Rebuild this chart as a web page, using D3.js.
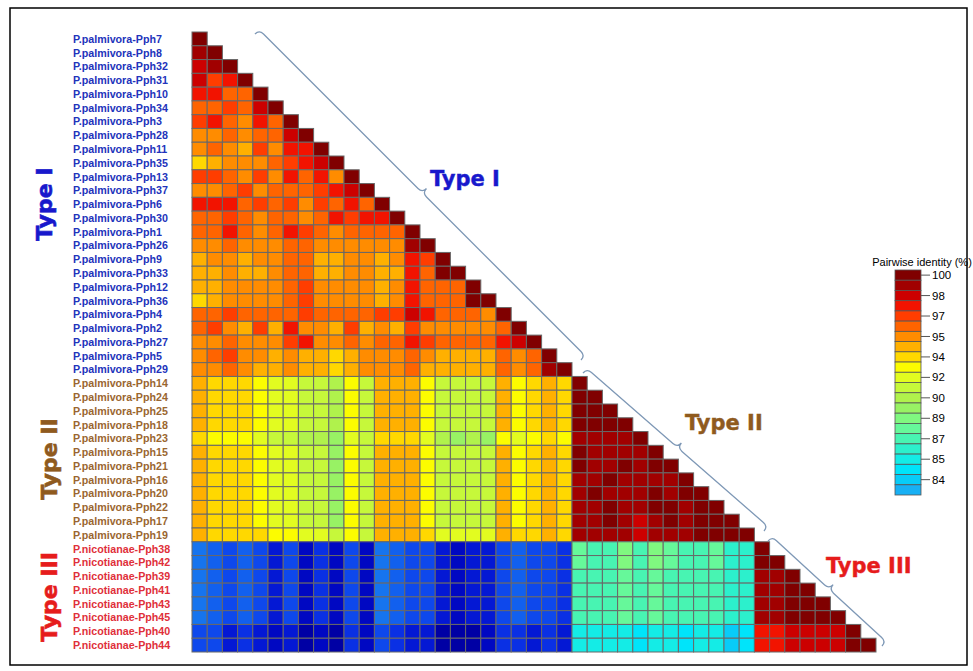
<!DOCTYPE html>
<html>
<head>
<meta charset="utf-8">
<script src="https://cdn.jsdelivr.net/npm/d3@7"></script>
<style>
body { margin: 0; background: #fff; }
</style>
</head>
<body>
<div id="chart"></div>
<script>
var typeILabels = ['P.palmivora-Pph7', 'P.palmivora-Pph8', 'P.palmivora-Pph32', 'P.palmivora-Pph31', 'P.palmivora-Pph10',
    'P.palmivora-Pph34', 'P.palmivora-Pph3', 'P.palmivora-Pph28', 'P.palmivora-Pph11', 'P.palmivora-Pph35',
    'P.palmivora-Pph13', 'P.palmivora-Pph37', 'P.palmivora-Pph6', 'P.palmivora-Pph30', 'P.palmivora-Pph1',
    'P.palmivora-Pph26', 'P.palmivora-Pph9', 'P.palmivora-Pph33', 'P.palmivora-Pph12', 'P.palmivora-Pph36',
    'P.palmivora-Pph4', 'P.palmivora-Pph2', 'P.palmivora-Pph27', 'P.palmivora-Pph5', 'P.palmivora-Pph29'];
var typeIILabels = ['P.palmivora-Pph14', 'P.palmivora-Pph24', 'P.palmivora-Pph25', 'P.palmivora-Pph18',
    'P.palmivora-Pph23', 'P.palmivora-Pph15', 'P.palmivora-Pph21', 'P.palmivora-Pph16', 'P.palmivora-Pph20',
    'P.palmivora-Pph22', 'P.palmivora-Pph17', 'P.palmivora-Pph19'];
var typeIIILabels = ['P.nicotianae-Pph38', 'P.nicotianae-Pph42', 'P.nicotianae-Pph39', 'P.nicotianae-Pph41',
    'P.nicotianae-Pph43', 'P.nicotianae-Pph45', 'P.nicotianae-Pph40', 'P.nicotianae-Pph44'];

// pairwise identity (%), lower triangle, one array per row
var typeIRows = [
    [100],
    [99.2,100],
    [98.4,99.2,100],
    [98.4,96.8,97.6,100],
    [97.6,97.6,95.9,95.9,100],
    [95.9,95.9,96.8,95.9,98.4,100],
    [96.8,97.6,95.9,95.1,97.6,95.9,100],
    [95.1,95.1,95.9,95.1,95.9,95.9,98.4,100],
    [95.1,95.9,95.1,94.3,96.8,95.1,97.6,97.6,100],
    [93.5,94.3,95.1,95.1,95.1,95.9,96.8,97.6,98.4,100],
    [96.8,96.8,95.9,95.1,96.8,95.1,97.6,95.9,97.6,95.1,100],
    [95.1,95.1,95.9,96.8,95.1,95.9,95.9,95.9,96.8,97.6,98.4,100],
    [97.6,97.6,97.6,95.9,96.8,95.9,96.8,95.1,96.8,95.9,97.6,95.9,100],
    [95.9,95.9,96.8,95.9,95.1,95.9,95.9,95.1,95.9,97.6,96.8,97.6,97.6,100],
    [95.9,95.9,97.6,95.9,95.1,95.9,97.6,96.8,95.9,95.1,95.9,95.9,95.9,95.9,100],
    [95.1,95.1,95.9,95.1,95.1,95.1,95.9,95.9,95.1,95.1,95.1,95.1,95.1,95.1,99.2,100],
    [94.3,95.1,95.1,94.3,95.1,95.1,95.9,95.9,94.3,94.3,95.1,95.1,94.3,95.1,97.6,96.8,100],
    [94.3,94.3,95.1,94.3,94.3,95.1,95.9,95.9,94.3,94.3,95.1,95.1,94.3,94.3,97.6,95.9,100,100],
    [94.3,94.3,95.1,95.1,95.1,95.1,95.9,96.8,95.1,95.1,95.1,95.1,94.3,95.1,97.6,95.9,95.9,95.9,100],
    [93.5,94.3,95.1,95.1,95.1,95.1,95.9,96.8,95.1,95.1,95.1,95.1,94.3,95.1,97.6,95.9,95.9,95.9,100,100],
    [95.9,95.9,96.8,95.9,95.9,95.9,95.9,96.8,95.9,95.9,95.9,95.9,96.8,96.8,98.4,97.6,95.9,95.9,95.9,95.1,100],
    [95.9,96.8,95.1,94.3,96.8,94.3,97.6,95.1,95.1,94.3,96.8,94.3,95.1,94.3,96.8,95.1,95.1,95.1,95.1,95.1,95.9,100],
    [95.1,95.1,95.9,95.1,95.1,95.1,96.8,97.6,95.1,95.1,95.9,95.1,95.9,95.9,97.6,96.8,95.9,95.9,95.9,95.9,97.6,98.4,100],
    [95.1,95.9,96.8,95.1,95.1,94.3,95.1,94.3,94.3,93.5,94.3,95.1,95.1,95.1,95.9,95.1,94.3,94.3,94.3,94.3,95.9,95.1,95.9,100],
    [95.1,95.1,95.9,95.1,94.3,94.3,95.1,94.3,94.3,93.5,94.3,95.1,95.1,95.1,95.9,94.3,94.3,94.3,94.3,94.3,95.9,95.1,95.9,99.2,100]
];

var typeIIRows = [
    [94.3,93.5,93.5,93.5,92.7,91.9,91.9,91.1,91.1,90.3,92.7,91.1,94.3,94.3,94.3,92.7,91.1,91.1,91.1,91.1,94.3,92.7,93.5,94.3,93.5, 100],
    [94.3,93.5,93.5,93.5,92.7,91.9,91.9,91.1,91.1,90.3,92.7,91.1,94.3,94.3,94.3,92.7,91.1,91.1,91.1,91.1,94.3,92.7,93.5,94.3,93.5, 100,100],
    [94.3,93.5,93.5,93.5,92.7,91.9,91.9,91.1,91.1,90.3,92.7,91.1,94.3,94.3,94.3,92.7,91.1,91.1,91.1,91.1,94.3,92.7,93.5,94.3,93.5, 100,100,100],
    [94.3,93.5,93.5,93.5,92.7,91.9,91.9,91.1,91.1,90.3,92.7,91.1,94.3,94.3,94.3,92.7,91.1,91.1,91.1,91.1,94.3,92.7,93.5,94.3,93.5, 100,100,100,100],
    [93.5,92.7,92.7,92.7,91.9,91.1,91.1,90.3,90.3,89.5,91.9,91.1,93.5,93.5,93.5,91.9,90.3,89.5,90.3,89.5,92.7,91.9,92.7,93.5,92.7, 99.2,99.2,99.2,99.2,100],
    [94.3,93.5,93.5,93.5,92.7,91.9,91.9,91.1,91.1,89.5,92.7,91.1,94.3,94.3,94.3,92.7,91.1,91.1,91.1,91.1,94.3,92.7,93.5,94.3,93.5, 100,99.2,99.2,99.2,99.2,100],
    [94.3,93.5,93.5,93.5,92.7,91.9,91.9,91.1,91.1,89.5,92.7,91.1,94.3,94.3,94.3,92.7,91.1,91.1,91.1,91.1,94.3,92.7,93.5,94.3,93.5, 100,99.2,99.2,100,99.2,100,100],
    [94.3,93.5,93.5,93.5,92.7,91.9,91.9,91.1,91.1,89.5,92.7,91.1,94.3,94.3,94.3,92.7,91.1,91.1,91.1,91.1,94.3,92.7,93.5,94.3,93.5, 99.2,99.2,100,99.2,99.2,99.2,99.2,100],
    [94.3,93.5,93.5,93.5,92.7,91.9,91.9,91.1,91.1,89.5,92.7,91.1,94.3,94.3,94.3,92.7,91.1,91.1,91.1,91.1,94.3,92.7,93.5,94.3,93.5, 99.2,100,99.2,99.2,99.2,100,99.2,100,100],
    [94.3,93.5,93.5,93.5,92.7,91.9,91.9,91.1,91.1,89.5,92.7,91.1,94.3,94.3,94.3,92.7,91.1,91.1,91.1,91.1,94.3,92.7,93.5,94.3,93.5, 99.2,99.2,100,99.2,99.2,100,100,99.2,100,100],
    [94.3,93.5,93.5,93.5,92.7,91.9,91.9,91.1,91.1,89.5,92.7,91.1,94.3,94.3,94.3,92.7,91.1,91.1,91.1,91.1,94.3,92.7,93.5,94.3,93.5, 99.2,99.2,100,99.2,98.4,99.2,100,99.2,100,100,100],
    [94.3,93.5,93.5,93.5,93.5,92.7,92.7,91.9,91.9,91.1,92.7,91.1,94.3,94.3,94.3,93.5,91.9,91.9,91.9,91.9,94.3,93.5,93.5,94.3,93.5, 99.2,99.2,99.2,99.2,98.4,99.2,99.2,99.2,100,100,100,100]
];

var typeIIIRows = [
    [82.2,81.4,80.6,81.4,80.6,78.9,80.6,78.1,79.7,78.1,80.6,78.1,82.2,81.4,80.6,80.6,78.9,78.1,78.9,78.9,80.6,81.4,80.6,80.6,79.7, 87.8,87.0,87.0,88.7,87.0,88.7,87.8,87.0,87.0,87.8,86.2,86.2, 100],
    [82.2,81.4,80.6,81.4,80.6,78.9,80.6,78.1,79.7,78.1,80.6,78.1,82.2,81.4,80.6,80.6,78.9,78.1,78.9,78.9,80.6,81.4,80.6,80.6,79.7, 87.8,87.0,87.0,88.7,87.0,88.7,87.8,87.0,87.0,87.8,86.2,86.2, 100,100],
    [82.2,81.4,80.6,81.4,80.6,78.9,80.6,78.1,79.7,78.1,80.6,78.1,82.2,81.4,80.6,80.6,78.9,78.1,78.9,78.9,80.6,81.4,80.6,80.6,79.7, 87.0,87.0,87.0,87.8,87.0,87.8,87.0,87.0,87.0,87.0,86.2,86.2, 99.2,99.2,100],
    [82.2,81.4,80.6,81.4,80.6,78.9,80.6,78.1,79.7,78.1,80.6,78.1,82.2,81.4,80.6,80.6,78.9,78.1,78.9,78.9,80.6,81.4,80.6,80.6,79.7, 87.0,87.0,87.0,87.8,87.0,87.8,87.0,87.0,87.0,87.0,86.2,86.2, 99.2,99.2,100,100],
    [82.2,81.4,80.6,81.4,80.6,78.9,80.6,78.1,79.7,78.1,80.6,78.1,82.2,81.4,80.6,80.6,78.9,78.1,78.9,78.9,80.6,81.4,80.6,80.6,79.7, 87.0,87.0,87.0,87.8,87.0,87.8,87.0,87.0,87.0,87.0,86.2,86.2, 99.2,99.2,100,100,100],
    [82.2,81.4,80.6,81.4,80.6,78.9,80.6,78.1,79.7,78.1,80.6,78.1,82.2,81.4,80.6,80.6,78.9,78.1,78.9,78.9,80.6,81.4,80.6,80.6,79.7, 87.0,87.0,87.0,87.8,87.0,87.8,87.0,87.0,87.0,87.0,86.2,86.2, 99.2,99.2,100,100,100,100],
    [80.6,80.6,78.9,79.7,78.9,78.1,78.9,77.3,78.1,77.3,79.7,78.1,80.6,79.7,78.9,78.9,77.3,77.3,77.3,78.1,79.7,79.7,78.9,79.7,78.9, 85.4,85.4,85.4,85.4,84.6,85.4,85.4,84.6,85.4,85.4,83.8,84.6, 97.6,97.6,98.4,98.4,98.4,98.4,100],
    [80.6,80.6,78.9,79.7,78.9,78.1,78.9,77.3,78.1,77.3,79.7,78.1,80.6,79.7,78.9,78.9,77.3,77.3,77.3,78.1,79.7,79.7,78.9,79.7,78.9, 85.4,85.4,85.4,85.4,84.6,85.4,85.4,84.6,85.4,85.4,83.8,84.6, 97.6,97.6,98.4,98.4,98.4,98.4,100,100]
];

// colour steps from 100 % downwards; the legend shows the first 22
var binColors = ['#800000', '#a10000', '#cc0000', '#f21300', '#ff3d00', '#ff6400', '#ff8c00', '#ffb000',
    '#ffd800', '#fcfc00', '#e2fc20', '#c6f83a', '#b0f24c', '#98f264', '#80f880', '#66f89a', '#48f4b2',
    '#2cf0cc', '#14ece6', '#00e4fa', '#08ccf8', '#18b0f4', '#1674ee', '#1260ee', '#0e48ec', '#0a30e4',
    '#0418d4', '#0008c2', '#0000a4'];
var legendTicks = ['100', '98', '97', '95', '94', '92', '90', '89', '87', '85', '84'];
var legendSteps = 22;

var svg = d3.select('#chart')
    .append('svg')
    .attr('width', 973)
    .attr('height', 671);

svg.append('rect')
    .attr('x', 10)
    .attr('y', 8)
    .attr('width', 957)
    .attr('height', 657)
    .attr('fill', '#fff')
    .attr('stroke', '#000')
    .attr('stroke-width', 1.5);

var labels = typeILabels.concat(typeIILabels, typeIIILabels);
var rows = typeIRows.concat(typeIIRows, typeIIIRows);

var x = d3.scaleBand().domain(labels).range([192, 876]);
var y = d3.scaleBand().domain(labels).range([32, 652]);
var color = d3.scaleQuantize()
    .domain([100.4 - 0.81 * binColors.length, 100.4])
    .range(binColors.slice().reverse());

var cells = [];
rows.forEach(function(row, i) {
    row.forEach(function(v, j) {
        cells.push({ row: labels[i], col: labels[j], value: v });
    });
});

svg.append('g')
    .selectAll('rect')
    .data(cells)
    .enter()
    .append('rect')
    .attr('x', function(d) { return x(d.col); })
    .attr('y', function(d) { return y(d.row); })
    .attr('width', x.bandwidth())
    .attr('height', y.bandwidth())
    .attr('fill', function(d) { return color(d.value); })
    .attr('stroke', '#686868')
    .attr('stroke-width', 1);

function groupOf(name) {
    if (typeILabels.indexOf(name) >= 0) return 0;
    if (typeIILabels.indexOf(name) >= 0) return 1;
    return 2;
}
var labelColors = ['#2233bb', '#9a6630', '#e0303a'];
var titleColors = ['#1818cc', '#8f5a1e', '#e61c1c'];

svg.append('g')
    .selectAll('text')
    .data(labels)
    .enter()
    .append('text')
    .attr('x', 73)
    .attr('y', function(d) { return y(d) + y.bandwidth() / 2; })
    .attr('dy', '0.36em')
    .attr('fill', function(d) { return labelColors[groupOf(d)]; })
    .style('font', 'bold 10.7px "Liberation Sans", Arial, sans-serif')
    .text(function(d) { return d; });

// vertical group names
var groupNames = ['Type I', 'Type II', 'Type III'];
var groupLists = [typeILabels, typeIILabels, typeIIILabels];
var sideX = [52, 57, 57];
groupNames.forEach(function(name, k) {
    var list = groupLists[k];
    var mid = (y(list[0]) + y(list[list.length - 1]) + y.bandwidth()) / 2;
    svg.append('text')
        .attr('transform', 'translate(' + sideX[k] + ',' + mid + ') rotate(-90)')
        .attr('text-anchor', 'middle')
        .attr('fill', titleColors[k])
        .attr('stroke', titleColors[k])
        .attr('stroke-width', 0.6)
        .style('font', 'bold 22px "DejaVu Sans", Verdana, sans-serif')
        .text(name);
});

// curly braces along the diagonal
function brace(x1, y1, x2, y2, h) {
    var dx = x2 - x1, dy = y2 - y1;
    var len = Math.sqrt(dx * dx + dy * dy);
    var ux = dx / len, uy = dy / len;
    var nx = uy, ny = -ux;
    var mx = (x1 + x2) / 2, my = (y1 + y2) / 2;
    function p(bx, by, a, b) { return (bx + ux * a + nx * b) + ',' + (by + uy * a + ny * b); }
    return 'M' + p(x1, y1, 0, 0) +
        'Q' + p(x1, y1, 0, h) + ' ' + p(x1, y1, h, h) +
        'L' + p(mx, my, -h, h) +
        'Q' + p(mx, my, 0, h) + ' ' + p(mx, my, 0, 2 * h) +
        'Q' + p(mx, my, 0, h) + ' ' + p(mx, my, h, h) +
        'L' + p(x2, y2, -h, h) +
        'Q' + p(x2, y2, 0, h) + ' ' + p(x2, y2, 0, 0);
}

var braces = [
    { from: [255, 34], to: [581, 360] },
    { from: [583, 373], to: [764, 531] },
    { from: [768, 541], to: [882, 646] }
];
svg.append('g')
    .selectAll('path')
    .data(braces)
    .enter()
    .append('path')
    .attr('d', function(d) { return brace(d.from[0], d.from[1], d.to[0], d.to[1], 6); })
    .attr('fill', 'none')
    .attr('stroke', '#7e98b6')
    .attr('stroke-width', 1.3);

var diagLabels = [
    { x: 430, y: 186 },
    { x: 685, y: 430 },
    { x: 826, y: 573 }
];
svg.append('g')
    .selectAll('text')
    .data(diagLabels)
    .enter()
    .append('text')
    .attr('x', function(d) { return d.x; })
    .attr('y', function(d) { return d.y; })
    .attr('fill', function(d, i) { return titleColors[i]; })
    .attr('stroke', function(d, i) { return titleColors[i]; })
    .attr('stroke-width', 0.4)
    .style('font', 'bold 21px "DejaVu Sans", Verdana, sans-serif')
    .text(function(d, i) { return groupNames[i]; });

// legend
var legend = svg.append('g');
var ly = d3.scaleBand().domain(d3.range(legendSteps)).range([270, 495]);

legend.append('text')
    .attr('x', 922)
    .attr('y', 266)
    .attr('text-anchor', 'middle')
    .style('font', '11px "Liberation Sans", Arial, sans-serif')
    .text('Pairwise identity (%)');

legend.selectAll('rect')
    .data(binColors.slice(0, legendSteps))
    .enter()
    .append('rect')
    .attr('x', 895)
    .attr('y', function(d, i) { return ly(i); })
    .attr('width', 26)
    .attr('height', ly.bandwidth())
    .attr('fill', function(d) { return d; })
    .attr('stroke', '#555')
    .attr('stroke-width', 0.8);

var ticks = legend.selectAll('.tick')
    .data(legendTicks)
    .enter()
    .append('g')
    .attr('transform', function(d, i) { return 'translate(921,' + (ly(i * 2) + ly.bandwidth() / 2) + ')'; });
ticks.append('line')
    .attr('x2', 9)
    .attr('stroke', '#555');
ticks.append('text')
    .attr('x', 11)
    .attr('dy', '0.35em')
    .style('font', '11.5px "Liberation Sans", Arial, sans-serif')
    .text(function(d) { return d; });
</script>
</body>
</html>
